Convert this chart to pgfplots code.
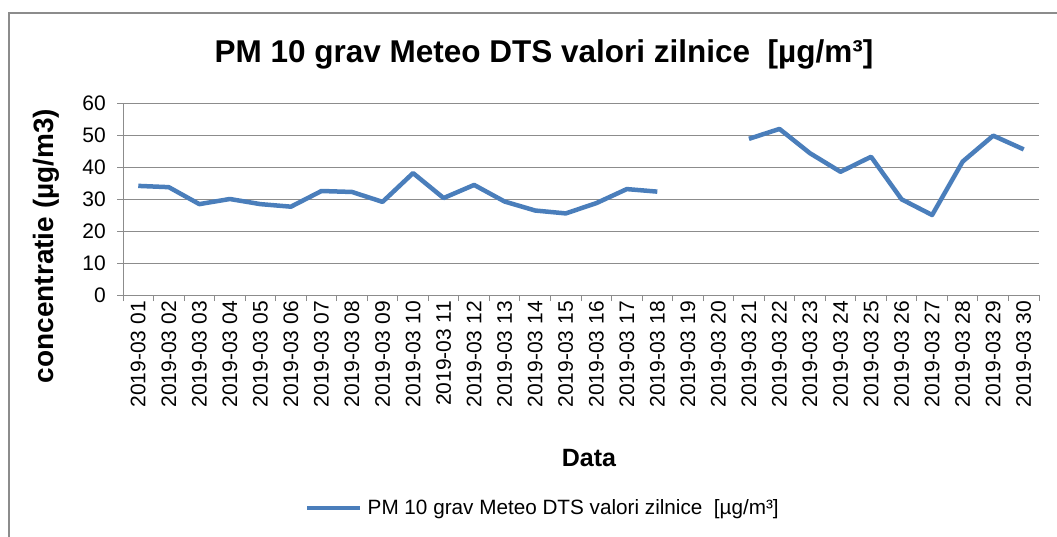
\documentclass[border=0pt]{standalone}
\usepackage{fontspec}
\setmainfont{Liberation Sans}
\usepackage{pgfplots}
\pgfplotsset{compat=1.18}
\definecolor{lineblue}{HTML}{4A7EBB}
\definecolor{gridgray}{HTML}{8C8C8C}
\newcommand{\fs}{\fontsize{21bp}{25bp}\selectfont}
\begin{document}
\begin{tikzpicture}
\useasboundingbox (0,0) rectangle (1057bp,-537bp);
\draw[gridgray, line width=1.5bp] (9bp,-545bp) -- (9bp,-13bp) -- (1065bp,-13bp);
\begin{axis}[
  at={(123bp,-295bp)}, anchor=south west,
  width=916bp, height=192bp, scale only axis,
  xmin=0.5, xmax=30.5, ymin=0, ymax=60,
  xtick={1,...,30},
  xticklabels={2019-03 01,2019-03 02,2019-03 03,2019-03 04,2019-03 05,2019-03 06,2019-03 07,2019-03 08,2019-03 09,2019-03 10,2019-03 11,2019-03 12,2019-03 13,2019-03 14,2019-03 15,2019-03 16,2019-03 17,2019-03 18,2019-03 19,2019-03 20,2019-03 21,2019-03 22,2019-03 23,2019-03 24,2019-03 25,2019-03 26,2019-03 27,2019-03 28,2019-03 29,2019-03 30},
  minor xtick={0.5,1.5,2.5,3.5,4.5,5.5,6.5,7.5,8.5,9.5,10.5,11.5,12.5,13.5,14.5,15.5,16.5,17.5,18.5,19.5,20.5,21.5,22.5,23.5,24.5,25.5,26.5,27.5,28.5,29.5,30.5},
  ytick={0,10,...,60},
  tick align=outside,
  major tick length=6bp, minor tick length=6bp,
  major x tick style={draw=none},
  minor x tick style={gridgray, line width=1bp},
  y tick style={gridgray, line width=1bp},
  ymajorgrids, grid style={gridgray, line width=1bp},
  axis x line*=bottom, axis y line*=left,
  axis line style={gridgray, line width=1bp, -},
  /pgf/number format/assume math mode=true,
  xticklabel style={rotate=90, anchor=east, font=\fs, inner sep=0pt},
  yticklabel style={font=\fs, inner sep=0pt, xshift=-11bp},
  unbounded coords=jump,
  legend style={draw=none, fill=none, at={(0.1987,-1.109)}, anchor=west, font=\fontsize{20.7bp}{25bp}\selectfont, inner sep=0pt},
  legend image code/.code={\draw[#1] (0bp,0bp) -- (53bp,0bp);},
]
\addplot[lineblue, line width=4.5bp, line join=round] coordinates {
(1,34.1) (2,33.7) (3,28.4) (4,30.0) (5,28.4) (6,27.6) (7,32.5) (8,32.2) (9,29.1) (10,38.1)
(11,30.3) (12,34.4) (13,29.2) (14,26.4) (15,25.5) (16,28.7) (17,33.1) (18,32.3) (19,nan) (20,nan)
(21,48.8) (22,51.9) (23,44.3) (24,38.5) (25,43.2) (26,29.9) (27,25.0) (28,41.7) (29,49.8) (30,45.5)
};
\addlegendentry{\hspace{3bp}PM 10 grav Meteo DTS valori zilnice\ \ [µg/m³]}
\end{axis}
\node[anchor=base, font=\fontsize{31.5bp}{36bp}\selectfont\bfseries, inner sep=0pt] at (544bp,-62.7bp) {PM 10 grav Meteo DTS valori zilnice\ \ [µg/m³]};
\node[anchor=base, rotate=90, font=\fontsize{28bp}{32bp}\selectfont\bfseries, inner sep=0pt] at (53bp,-246bp) {concentratie (µg/m3)};
\node[anchor=base, font=\fontsize{25bp}{30bp}\selectfont\bfseries, inner sep=0pt] at (589bp,-466bp) {Data};
\end{tikzpicture}
\end{document}
